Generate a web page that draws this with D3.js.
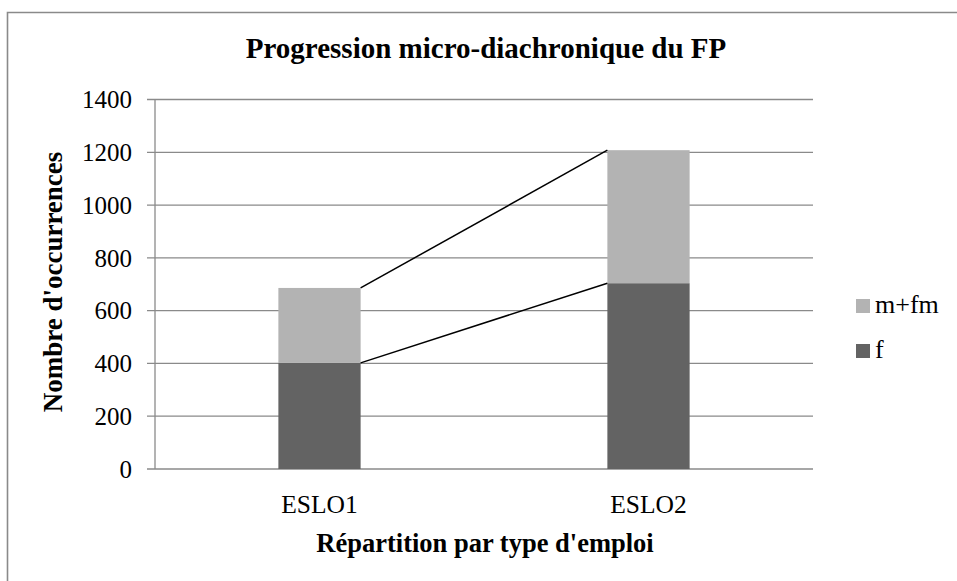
<!DOCTYPE html>
<html>
<head>
<meta charset="utf-8">
<script src="https://cdn.jsdelivr.net/npm/d3@7"></script>
<style>
  body { margin: 0; background: #fff; overflow: hidden; }
</style>
</head>
<body>
<div id="chart"></div>
<script>
// données
const categories = ["ESLO1", "ESLO2"];
const seriesNames = ["f", "m+fm"];
const valuesF = [402, 704];
const valuesMFM = [284, 504];
const yTicks = [0, 200, 400, 600, 800, 1000, 1200, 1400];

const width = 957, height = 581;
const plot = { left: 155, right: 813, top: 99.5, bottom: 469 };
const colors = { "f": "#636363", "m+fm": "#b3b3b3" };
const serif = "'Liberation Serif', 'Times New Roman', Times, serif";

const svg = d3.select("#chart").append("svg")
    .attr("width", width)
    .attr("height", height)
    .attr("font-family", serif)
    .style("display", "block");

// cadre (haut et gauche seulement visibles)
svg.append("path")
    .attr("d", `M7.5,${height}V12.5H${width}`)
    .attr("fill", "none")
    .attr("stroke", "#8a8a8a")
    .attr("stroke-width", 1.6);

const x = d3.scaleBand()
    .domain(categories)
    .range([plot.left, plot.right])
    .padding(0);

const y = d3.scaleLinear()
    .domain([0, 1400])
    .range([plot.bottom, plot.top]);

const barW = x.bandwidth() * 0.25;

// empilement
const rows = categories.map((c, i) => ({ cat: c, "f": valuesF[i], "m+fm": valuesMFM[i] }));
const stacked = d3.stack().keys(seriesNames)(rows);

// grille
svg.append("g")
    .selectAll("line")
    .data(yTicks)
    .join("line")
    .attr("x1", plot.left - 8)
    .attr("x2", plot.right)
    .attr("y1", d => y(d))
    .attr("y2", d => y(d))
    .attr("stroke", "#8a8a8a")
    .attr("stroke-width", 1.3);

// axe vertical
svg.append("line")
    .attr("x1", plot.left).attr("x2", plot.left)
    .attr("y1", plot.top).attr("y2", plot.bottom)
    .attr("stroke", "#8a8a8a")
    .attr("stroke-width", 1.3);

// étiquettes de l'axe Y
svg.append("g")
    .selectAll("text")
    .data(yTicks)
    .join("text")
    .attr("x", plot.left - 23)
    .attr("y", d => y(d))
    .attr("dy", "0.35em")
    .attr("text-anchor", "end")
    .attr("font-size", "25px")
    .text(d => d);

// barres
svg.append("g")
    .selectAll("g")
    .data(stacked)
    .join("g")
    .attr("fill", d => colors[d.key])
    .selectAll("rect")
    .data(d => d)
    .join("rect")
    .attr("x", d => x(d.data.cat) + (x.bandwidth() - barW) / 2)
    .attr("y", d => y(d[1]))
    .attr("width", barW)
    .attr("height", d => y(d[0]) - y(d[1]));

// lignes de série
stacked.forEach(s => {
    svg.append("line")
        .attr("x1", x(categories[0]) + (x.bandwidth() + barW) / 2)
        .attr("y1", y(s[0][1]))
        .attr("x2", x(categories[1]) + (x.bandwidth() - barW) / 2)
        .attr("y2", y(s[1][1]))
        .attr("stroke", "#000")
        .attr("stroke-width", 1.5);
});

// étiquettes de l'axe X
svg.append("g")
    .selectAll("text")
    .data(categories)
    .join("text")
    .attr("x", d => x(d) + x.bandwidth() / 2)
    .attr("y", 513)
    .attr("text-anchor", "middle")
    .attr("font-size", "25.5px")
    .text(d => d);

// titres
svg.append("text")
    .attr("x", 486)
    .attr("y", 58)
    .attr("text-anchor", "middle")
    .attr("font-size", "29px")
    .attr("font-weight", "bold")
    .text("Progression micro-diachronique du FP");

svg.append("text")
    .attr("x", 485)
    .attr("y", 552)
    .attr("text-anchor", "middle")
    .attr("font-size", "26.5px")
    .attr("font-weight", "bold")
    .text("Répartition par type d'emploi");

svg.append("text")
    .attr("transform", "translate(62,282) rotate(-90)")
    .attr("text-anchor", "middle")
    .attr("font-size", "27px")
    .attr("font-weight", "bold")
    .text("Nombre d'occurrences");

// légende
const legendItems = seriesNames.slice().reverse();
const legend = svg.append("g")
    .selectAll("g")
    .data(legendItems)
    .join("g")
    .attr("transform", (d, i) => `translate(856,${299 + i * 45})`);

legend.append("rect")
    .attr("width", 14)
    .attr("height", 14)
    .attr("fill", d => colors[d]);

legend.append("text")
    .attr("x", 19)
    .attr("y", 14)
    .attr("font-size", "26px")
    .text(d => d);
</script>
</body>
</html>
